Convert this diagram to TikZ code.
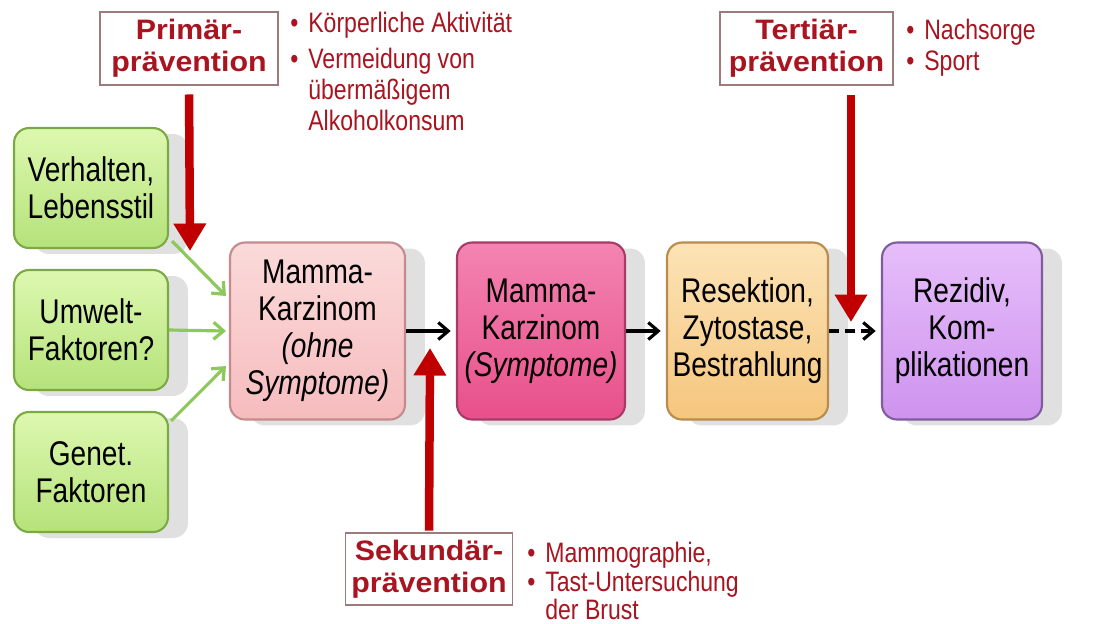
\documentclass[tikz,border=0pt]{standalone}
\usepackage{fontspec}
\setmainfont{Liberation Sans}
\newfontfamily\cond[FakeStretch=0.82]{Liberation Sans}
\newfontfamily\wideb[FakeStretch=1.08]{Liberation Sans}
\usetikzlibrary{arrows.meta,shadows,calc}
\definecolor{greenL}{HTML}{DDF8B0}
\definecolor{greenM}{HTML}{B5E27A}
\definecolor{greenD}{HTML}{7BAA45}
\definecolor{pinkL}{HTML}{FBDADA}
\definecolor{pinkM}{HTML}{F6BCBE}
\definecolor{pinkD}{HTML}{C48A8C}
\definecolor{magL}{HTML}{F384B2}
\definecolor{magM}{HTML}{E8508A}
\definecolor{magD}{HTML}{A83A68}
\definecolor{peachL}{HTML}{FCE3B6}
\definecolor{peachM}{HTML}{F5C67E}
\definecolor{peachD}{HTML}{B98B4C}
\definecolor{lavL}{HTML}{E6BEFA}
\definecolor{lavM}{HTML}{CE93EE}
\definecolor{lavD}{HTML}{7E5C9E}
\definecolor{arrowred}{HTML}{C00000}
\definecolor{textred}{HTML}{A8141F}
\definecolor{labelbd}{HTML}{9C7B7B}
\definecolor{garrow}{HTML}{8DC85A}
\newcommand\bxfont{\cond\fontsize{19.5}{21}\selectfont}
\newcommand\blfont{\cond\fontsize{16}{17.5}\selectfont}
\newcommand\lbfont{\wideb\bfseries\fontsize{16}{18}\selectfont}
\newcommand\bul{\makebox[0.36cm][l]{•}}
\newcommand\ind{\hspace*{0.36cm}}
\tikzset{
  box/.style={rounded corners=0.3cm, line width=1.2pt, align=center, inner sep=0pt,
    font=\bxfont, text=black,
    drop shadow={shadow xshift=0.4cm, shadow yshift=-0.12cm, opacity=0.12, fill=black}},
  factor/.style={box, draw=greenD, top color=greenL, bottom color=greenM,
    minimum width=3.08cm, minimum height=2.4cm},
  stage/.style={box, minimum height=3.54cm},
  label/.style={draw=labelbd, line width=0.8pt, fill=white, align=center, inner sep=0pt,
    font=\lbfont, text=textred},
  bullets/.style={align=left, inner sep=0pt, anchor=north west, text=textred},
  greenarrow/.style={draw=garrow, line width=1.8pt,
    -{Straight Barb[length=0.2cm,width=0.34cm,line width=1.8pt]}},
  blackarrow/.style={draw=black, line width=1.8pt,
    -{Straight Barb[length=0.2cm,width=0.34cm,line width=1.8pt]}},
  redarrow/.style={draw=arrowred, line width=0.17cm,
    -{Triangle[length=0.55cm,width=0.62cm]}}
}
\begin{document}
\begin{tikzpicture}[x=0.02cm,y=-0.02cm]
\useasboundingbox (0,0) rectangle (1101,623);
\fill[white] (0,0) rectangle (1101,623);

% factor boxes
\node[factor] (verh) at (91,188) {Verhalten,\\Lebensstil};
\node[factor] (umw) at (91,330) {Umwelt-\\Faktoren?};
\node[factor] (gen) at (91,472) {Genet.\\Faktoren};

% stage boxes
\node[stage, draw=pinkD, top color=pinkL, bottom color=pinkM, minimum width=3.5cm]
  (m1) at (317.5,331) {Mamma-\\Karzinom\\\textit{(ohne}\\\textit{Symptome)}};
\node[stage, draw=magD, top color=magL, bottom color=magM, minimum width=3.36cm]
  (m2) at (541,331) {Mamma-\\Karzinom\\\textit{(Symptome)}};
\node[stage, draw=peachD, top color=peachL, bottom color=peachM, minimum width=3.22cm]
  (res) at (747.5,331) {Resektion,\\Zytostase,\\Bestrahlung};
\node[stage, draw=lavD, top color=lavL, bottom color=lavM, minimum width=3.2cm]
  (rez) at (962,331) {Rezidiv,\\Kom-\\plikationen};

% prevention labels
\node[label, minimum width=3.56cm, minimum height=1.46cm] (prim) at (189,48.5) {Primär-\\prävention};
\node[label, minimum width=3.46cm, minimum height=1.46cm] (tert) at (806.5,48.5) {Tertiär-\\prävention};
\node[label, minimum width=3.34cm, minimum height=1.44cm] (sek) at (429,569) {Sekundär-\\prävention};

% bullet lists
\node[bullets, font=\blfont] (primb) at (290,12)
  {\bul Körperliche Aktivität\\[3pt]\bul Vermeidung von\\\ind übermäßigem\\\ind Alkoholkonsum};
\node[bullets, font=\blfont] (tertb) at (906,19)
  {\bul Nachsorge\\\bul Sport};
\node[bullets, font=\cond\fontsize{16}{15.6}\selectfont] (sekb) at (527,542)
  {\bul Mammographie,\\[1pt]\bul Tast-Untersuchung\\\ind der Brust};

% green arrows
\draw[greenarrow] ($(verh.south east)+(3,-8)$) -- ($(m1.west)+(-3,-35)$);
\draw[greenarrow] (umw.east) -- ($(m1.west)+(-3,0)$);
\draw[greenarrow] ($(gen.north east)+(2,10)$) -- ($(m1.west)+(-3,35)$);

% black arrows
\draw[blackarrow, shorten >=3pt] (m1.east) -- (m2.west);
\draw[blackarrow, shorten >=3pt] (m2.east) -- (res.west);
\draw[blackarrow, shorten >=3pt, dash pattern=on 5.5pt off 3.5pt] (res.east) -- (rez.west);

% red arrows
\coordinate (pend) at (190,251);
\draw[redarrow, shorten <=5pt] (prim.south) -- (pend);
\coordinate (tstart) at (851,95);
\coordinate (tend) at (851,322);
\draw[redarrow] (tstart) -- (tend);
\coordinate (send) at (430,348);
\draw[redarrow, shorten <=1pt] (sek.north) -- (send);
\end{tikzpicture}
\end{document}
